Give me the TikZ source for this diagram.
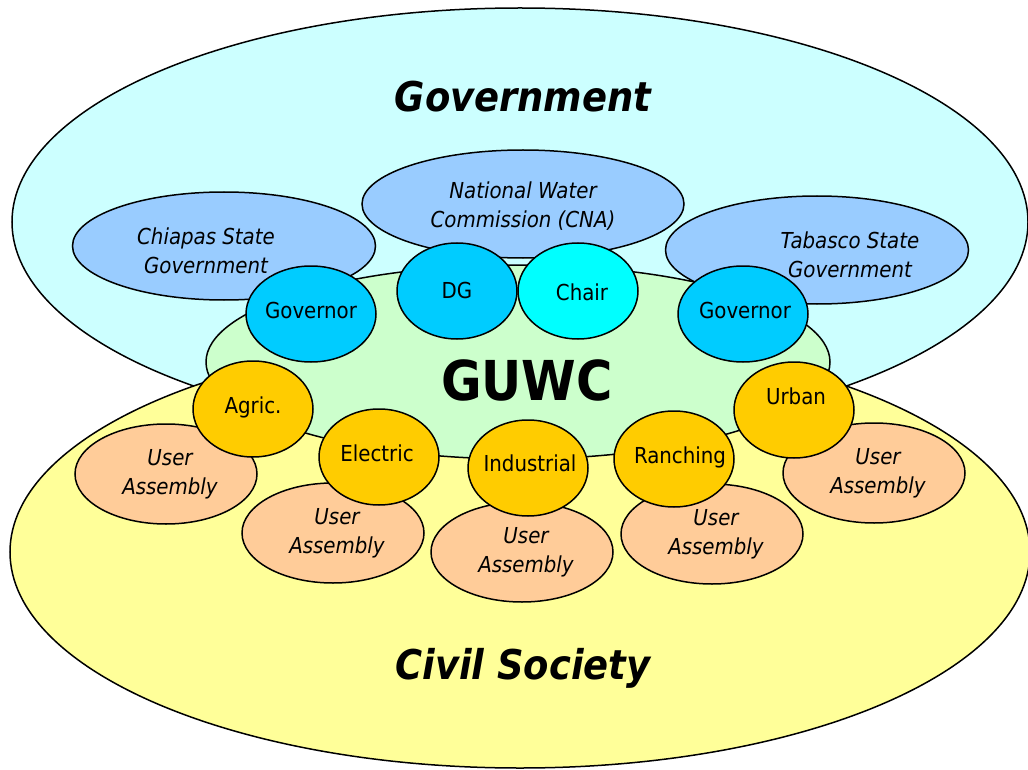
\documentclass[tikz,border=0pt]{standalone}
\usepackage{fontspec}
\setmainfont{DejaVu Sans Condensed}
\usepackage{tikz}
\usetikzlibrary{shapes.geometric}
\definecolor{govfill}{HTML}{CCFFFF}
\definecolor{civfill}{HTML}{FFFF99}
\definecolor{guwcfill}{HTML}{CCFFCC}
\definecolor{agency}{HTML}{99CCFF}
\definecolor{officer}{HTML}{00CCFF}
\definecolor{chairfill}{HTML}{00FFFF}
\definecolor{sector}{HTML}{FFCC00}
\definecolor{assembly}{HTML}{FFCC99}

\begin{document}
\begin{tikzpicture}[x=1pt, y=-1pt,
        blob/.style={ellipse, draw, line width=1.5pt, inner sep=0pt},
        agencyblob/.style={blob, fill=agency, minimum width=303, minimum height=108},
        officerblob/.style={blob, fill=officer, minimum width=130, minimum height=96},
        sectorblob/.style={blob, fill=sector, minimum width=120, minimum height=96},
        userblob/.style={blob, fill=assembly, minimum width=182, minimum height=100},
        lbl/.style={font=\fontsize{22}{29}\selectfont, align=center, inner sep=0pt},
        ilbl/.style={lbl, font=\fontsize{22}{29}\selectfont\itshape},
        title/.style={font=\fontsize{41}{48}\selectfont\bfseries\itshape, inner sep=0pt}
      ]
      \useasboundingbox (0,0) rectangle (1028,770);

      % the two spheres and the council between them
      \node[blob, fill=govfill, minimum width=1016, minimum height=428] (gov) at (520,222) {};
      \node[blob, fill=civfill, minimum width=1020, minimum height=432] (civ) at (520,552) {};
      \node[blob, fill=guwcfill, minimum width=624, minimum height=194] (guwc) at (518,362) {};

      \node[title] (govtxt) at (523,97) {Government};
      \node[title] (civtxt) at (523,668) {Civil Society};
      \node[font=\fontsize{55}{60}\selectfont\bfseries, inner sep=0pt] (guwctxt) at (527,380) {GUWC};

      % government agencies
      \node[agencyblob] (chiapas) at (224,246) {};
      \node[agencyblob] (tabasco) at (817,250) {};
      \node[agencyblob, minimum width=322] (cna) at (523,204) {};
      \node[ilbl] (chiapastxt) at (206,251) {Chiapas State\\Government};
      \node[ilbl] (tabascotxt) at (850,255) {Tabasco State\\Government};
      \node[ilbl] (cnatxt) at (523,206) {National Water\\Commission (CNA)};

      \node[officerblob] (govchia) at (311,314) {};
      \node[officerblob, minimum width=120] (dg) at (457,291) {};
      \node[officerblob, minimum width=120, fill=chairfill] (chair) at (578,291) {};
      \node[officerblob] (govtab) at (743,314) {};
      \node[lbl] (govchiatxt) at (311,310) {Governor};
      \node[lbl] (dgtxt) at (457,290) {DG};
      \node[lbl] (chairtxt) at (582,292) {Chair};
      \node[lbl] (govtabtxt) at (745,310) {Governor};

      % user assemblies behind the sectors
      \node[userblob] (ua1) at (166,474) {};
      \node[userblob] (ua2) at (333,533) {};
      \node[userblob] (ua3) at (522,552) {};
      \node[userblob] (ua4) at (712,534) {};
      \node[userblob] (ua5) at (874,473) {};
      \node[ilbl] (ua1txt) at (170,474) {User\\Assembly};
      \node[ilbl] (ua2txt) at (337,533) {User\\Assembly};
      \node[ilbl] (ua3txt) at (526,552) {User\\Assembly};
      \node[ilbl] (ua4txt) at (716,534) {User\\Assembly};
      \node[ilbl] (ua5txt) at (878,473) {User\\Assembly};

      \node[sectorblob] (agric) at (253,409) {};
      \node[sectorblob] (electric) at (379,457) {};
      \node[sectorblob] (industrial) at (528,468) {};
      \node[sectorblob] (ranching) at (674,459) {};
      \node[sectorblob] (urban) at (794,410) {};
      \node[lbl] (agrictxt) at (253,407) {Agric.};
      \node[lbl] (electrictxt) at (377,453) {Electric};
      \node[lbl] (industrialtxt) at (530,463) {Industrial};
      \node[lbl] (ranchingtxt) at (680,457) {Ranching};
      \node[lbl] (urbantxt) at (796,396) {Urban};
    \end{tikzpicture}
\end{document}
